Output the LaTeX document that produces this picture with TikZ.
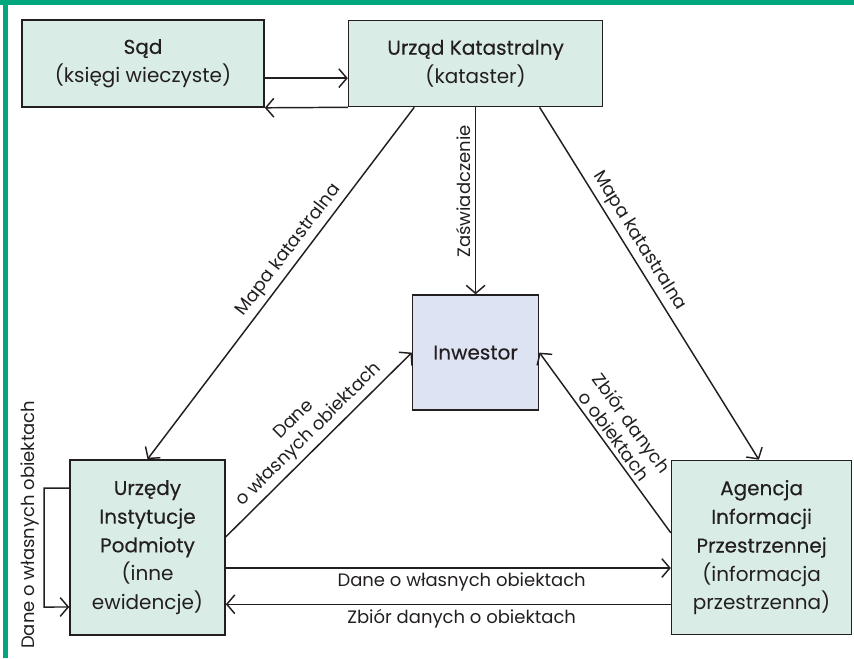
\documentclass[tikz,border=0pt]{standalone}
\usepackage{fontspec}
\setmainfont{Poppins}
\newfontfamily\headfont[FakeBold=0.3]{Poppins}
\usetikzlibrary{positioning, arrows.meta}
\definecolor{boxgreen}{RGB}{217,237,230}
\definecolor{boxblue}{RGB}{221,227,243}
\definecolor{framegreen}{RGB}{0,166,126}
\definecolor{ink}{RGB}{35,31,32}
\tikzset{
    block/.style={
        draw=ink, fill=boxgreen,
        line width=1.2pt,
        align=center, inner sep=2pt,
        text=ink,
        font=\fontsize{15}{21.5}\selectfont
    },
    line/.style = {-{Straight Barb[length=6pt,width=14pt]}, draw=ink, line width=1.1pt},
    lbl/.style = {font=\fontsize{13.5}{16}\selectfont, text=ink, inner sep=3pt}
}

\begin{document}
\begin{tikzpicture}[x=0.75pt, y=-0.75pt]
    \useasboundingbox (0,0) rectangle (854,658);

    % Frame
    \fill[framegreen] (0,0) rectangle (854,5);
    \fill[framegreen] (3,0) rectangle (8,658);

    % Blocks
    \node[block, minimum width=181.5pt, minimum height=65.25pt] (sad) at (143,63.5) {{\headfont Sąd}\\(księgi wieczyste)};
    \node[block, minimum width=190.5pt, minimum height=64.5pt, right=62.25pt of sad] (uk) {{\headfont Urząd Katastralny}\\(kataster)};
    \node[block, fill=boxblue, minimum width=94.5pt, minimum height=86.25pt, below=140.25pt of uk] (inw) {\headfont Inwestor};
    \node[block, minimum width=116.25pt, minimum height=131.25pt] (urz) at (147.5,547.5) {{\headfont Urzędy}\\{\headfont Instytucje}\\{\headfont Podmioty}\\(inne\\ewidencje)};
    \node[block, minimum width=135pt, minimum height=130.5pt, right=333.75pt of urz] (agi) {{\headfont Agencja}\\{\headfont Informacji}\\{\headfont Przestrzennej}\\(informacja\\przestrzenna)};

    % Lines
    \draw[line] ([yshift=-11pt]sad.east) -- ([yshift=-11pt]sad.east -| uk.west);
    \draw[line] (uk.south west) -- (sad.south east);
    \draw[line] ([xshift=-46pt]uk.south) -- node[lbl, sloped, above, pos=0.43] (mapL) {Mapa katastralna} (urz.north);
    \draw[line] (uk.south) -- node[lbl, rotate=90, above, pos=0.45] (zasw) {Zaświadczenie} (inw.north);
    \draw[line] ([xshift=48pt]uk.south) -- node[lbl, sloped, above, pos=0.4] (mapR) {Mapa katastralna} ([xshift=-2pt]agi.north);
    \draw[line] ([yshift=8pt]urz.east) -- node[lbl, sloped, above, align=center] (daneI) {Dane\\o własnych obiektach} (inw.west);
    \draw[line] ([yshift=11pt]agi.west) -- node[lbl, sloped, above, align=center] (zbiorI) {Zbiór danych\\o obiektach} (inw.east);
    \draw[line] ([yshift=-15.4pt]urz.east) -- node[lbl, below, pos=0.53] (daneA) {Dane o własnych obiektach} ([yshift=-15.4pt]urz.east -| agi.west);
    \draw[line] ([yshift=-42.6pt]agi.west) -- node[lbl, below, pos=0.47] (zbiorA) {Zbiór danych o obiektach} ([yshift=-42.6pt]agi.west -| urz.east);

    % Loop on Urzedy
    \draw[line] ([yshift=44.6pt]urz.west) -- ++(-25,0) -- node[lbl, rotate=90, above=1pt, pos=0.32] (loop) {Dane o własnych obiektach} ++(0,119) -- ([yshift=-44.6pt]urz.west);

\end{tikzpicture}
\end{document}
